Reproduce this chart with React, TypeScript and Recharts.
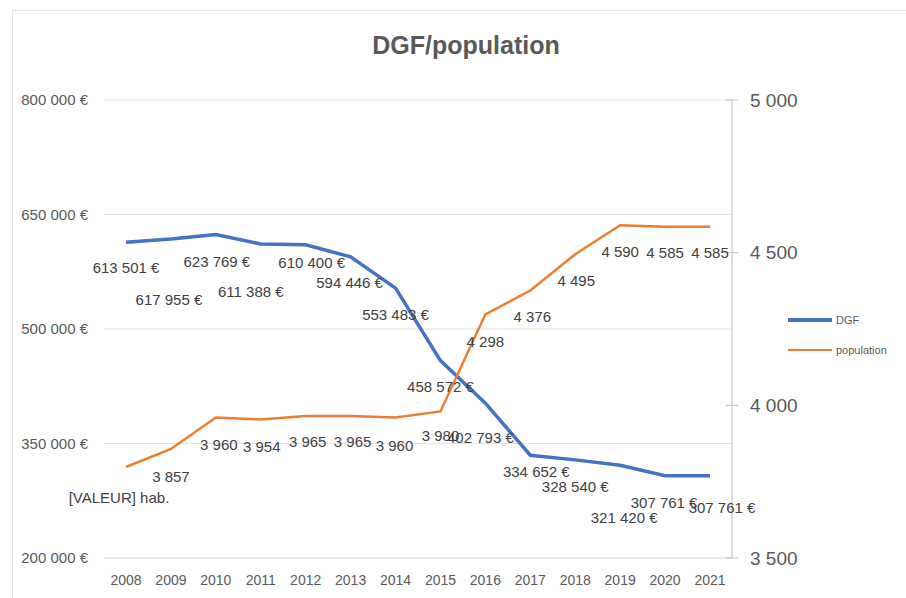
import React from 'react';
import { ComposedChart, Line, XAxis, YAxis, CartesianGrid, LabelList } from 'recharts';

const YEARS = ['2008', '2009', '2010', '2011', '2012', '2013', '2014', '2015', '2016', '2017', '2018', '2019', '2020', '2021'];
const DGF = [613501, 617955, 623769, 611388, 610400, 594446, 553483, 458572, 402793, 334652, 328540, 321420, 307761, 307761];
const POPULATION = [3798, 3857, 3960, 3954, 3965, 3965, 3960, 3980, 4298, 4376, 4495, 4590, 4585, 4585];
const LEFT_TICKS = [200000, 350000, 500000, 650000, 800000];
const RIGHT_TICKS = [3500, 4000, 4500, 5000];
const FIRST_POP_LABEL = '[VALEUR] hab.';
const SERIES_NAMES = ['DGF', 'population'];

// label placement (layout only, relative to each point)
const DGF_LABEL_OFFSETS: [number, number][] = [
  [0, 25], [-2, 61], [1, 27], [-10, 48], [6, 18], [-1, 26], [0, 26],
  [0, 26], [-5, 34], [6, 16], [0, 27], [4, 52], [-1, 27], [12, 32],
];
const POP_LABEL_OFFSETS: [number, number][] = [
  [-7, 30], [0, 28], [3, 27], [1, 27], [2, 25], [2, 25], [-1, 28],
  [0, 24], [0, 27], [2, 26], [1, 26], [0, 26], [0, 26], [0, 26],
];

const data = YEARS.map((year, i) => ({ year, dgf: DGF[i], population: POPULATION[i] }));

const FONT = '"Liberation Sans", Arial, sans-serif';
const BLUE = '#4472C4';
const ORANGE = '#ED7D31';
const fmtNum = (v: number) => String(v).replace(/\B(?=(\d{3})+(?!\d))/g, ' ');
const fmtEuro = (v: number) => `${fmtNum(v)} €`;

const idxFromX = (x: number) => Math.round((x - 126.7) / 44.86);

const makeLabel = (offsets: [number, number][], fmt: (v: number, i: number) => string) => (props: any) => {
  const { x, y, value } = props;
  const index = typeof props.index === 'number' ? props.index : idxFromX(Number(x));
  const [dx, dy] = offsets[index] ?? [0, 26];
  return (
    <text
      x={Number(x) + dx}
      y={Number(y) + dy}
      textAnchor="middle"
      dominantBaseline="central"
      fill="#404040"
      fontSize={15}
      fontFamily={FONT}
    >
      {fmt(Number(value), index)}
    </text>
  );
};

const dgfLabel = makeLabel(DGF_LABEL_OFFSETS, (v) => fmtEuro(v));
const popLabel = makeLabel(POP_LABEL_OFFSETS, (v, i) => (i === 0 ? FIRST_POP_LABEL : fmtNum(v)));

const RightTick = (props: any) => {
  const { x, y, payload } = props;
  return (
    <g>
      <line x1={x - 6} x2={x + 6} y1={y} y2={y} stroke="#bfbfbf" strokeWidth={1} />
      <text x={x + 18} y={y} textAnchor="start" dominantBaseline="central" fill="#595959" fontSize={19} fontFamily={FONT}>
        {fmtNum(payload.value)}
      </text>
    </g>
  );
};

export default function App() {
  const legendItems = [
    { name: SERIES_NAMES[0], color: BLUE, w: 3.5 },
    { name: SERIES_NAMES[1], color: ORANGE, w: 2.5 },
  ];
  return (
    <div style={{ position: 'absolute', left: 0, top: 0, width: 906, height: 598, background: '#fff' }}>
      <div
        style={{
          position: 'absolute',
          left: 12,
          top: 10,
          width: 894,
          height: 588,
          borderTop: '1px solid #e3e3e3',
          borderLeft: '1px solid #e3e3e3',
          boxSizing: 'border-box',
        }}
      />
      <div
        style={{
          position: 'absolute',
          left: 0,
          top: 31,
          width: 932,
          textAlign: 'center',
          fontFamily: FONT,
          fontWeight: 'bold',
          fontSize: 25,
          color: '#595959',
        }}
      >
        DGF/population
      </div>
      <div style={{ position: 'absolute', left: 788, top: 305, fontFamily: FONT, fontSize: 11, color: '#595959', zIndex: 2 }}>
        {legendItems.map((it) => (
          <div key={it.name} style={{ display: 'flex', alignItems: 'center', height: 30 }}>
            <span style={{ display: 'inline-block', width: 44, height: it.w, background: it.color, marginRight: 4 }} />
            <span>{it.name}</span>
          </div>
        ))}
      </div>
      <ComposedChart width={906} height={598} data={data} margin={{ top: 100, right: 0, bottom: 0, left: 0 }}>
        <CartesianGrid yAxisId="left" vertical={false} stroke="#e3e3e3" />
        <XAxis
          dataKey="year"
          interval={0}
          height={40}
          padding={{ left: 22, right: 22 }}
          axisLine={{ stroke: '#d9d9d9' }}
          tickLine={false}
          tickSize={0}
          tickMargin={17}
          tick={{ fill: '#595959', fontSize: 14, fontFamily: FONT }}
        />
        <YAxis
          yAxisId="left"
          orientation="left"
          width={104}
          domain={[200000, 800000]}
          ticks={LEFT_TICKS}
          axisLine={false}
          tickLine={false}
          tickSize={0}
          tickMargin={16}
          tickFormatter={(v: number) => fmtEuro(v)}
          tick={{ fill: '#595959', fontSize: 15, fontFamily: FONT }}
        />
        <YAxis
          yAxisId="right"
          orientation="right"
          width={174}
          domain={[3500, 5000]}
          ticks={RIGHT_TICKS}
          axisLine={{ stroke: '#bfbfbf' }}
          tickLine={false}
          tickSize={0}
          tickMargin={0}
          tick={<RightTick />}
        />
        <Line
          yAxisId="left"
          type="linear"
          dataKey="dgf"
          name={SERIES_NAMES[0]}
          stroke={BLUE}
          strokeWidth={3.5}
          dot={false}
          activeDot={false}
          isAnimationActive={false}
        >
          <LabelList dataKey="dgf" content={dgfLabel} />
        </Line>
        <Line
          yAxisId="right"
          type="linear"
          dataKey="population"
          name={SERIES_NAMES[1]}
          stroke={ORANGE}
          strokeWidth={2.5}
          dot={false}
          activeDot={false}
          isAnimationActive={false}
        >
          <LabelList dataKey="population" content={popLabel} />
        </Line>
      </ComposedChart>
    </div>
  );
}
